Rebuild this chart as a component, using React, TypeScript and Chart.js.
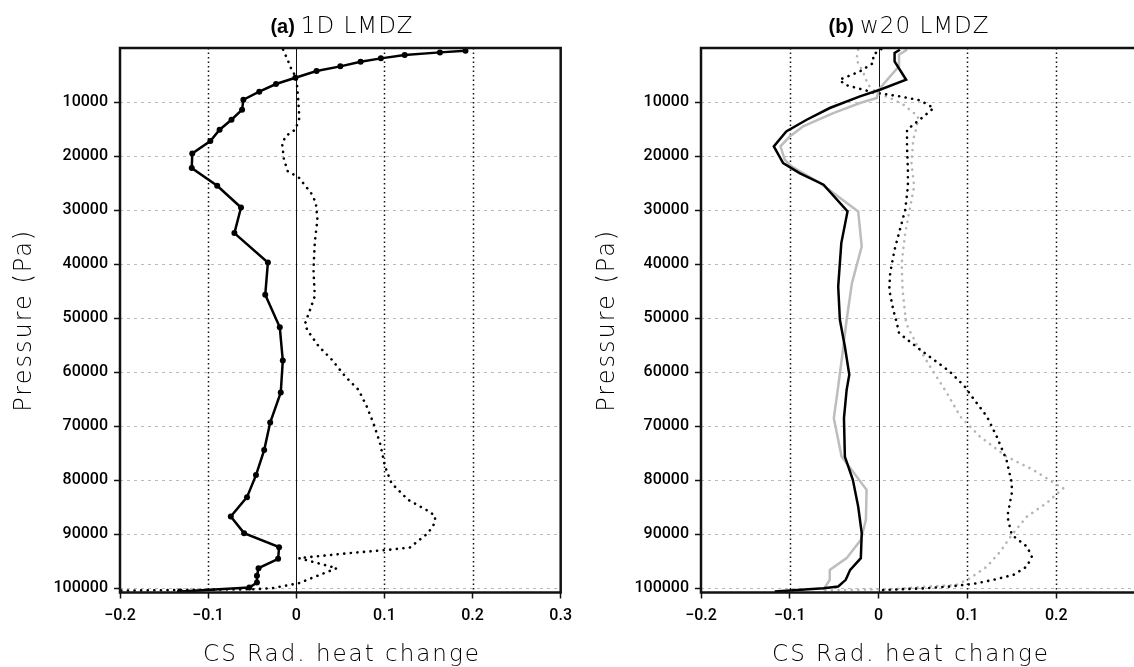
import React, { useEffect, useRef } from "react";
import { Chart, registerables } from "chart.js";
Chart.register(...registerables);

// ---- axes ----
const X_TICKS = [-0.2, -0.1, 0, 0.1, 0.2, 0.3];
const X_MIN = -0.2;
const X_MAX = 0.3;
const P_TICKS = [0, 10000, 20000, 30000, 40000, 50000, 60000, 70000, 80000, 90000, 100000];
const P_MIN = 0;
const P_MAX = 100800;

// ---- panel (a) 1D LMDZ ----
const A_SOLID_P = [500, 810, 1300, 1920, 2540, 3400, 4260, 5500, 6670, 8090, 9570, 11430, 13280, 15130, 17220, 19520, 22220, 25500, 29520, 34260, 39700, 45690, 51700, 57850, 63780, 69330, 74440, 79070, 83150, 86740, 89810, 92410, 94570, 96300, 97720, 98960, 99890, 100630];
const A_SOLID_X = [0.192, 0.163, 0.123, 0.096, 0.073, 0.05, 0.023, -0.001, -0.023, -0.042, -0.06, -0.0615, -0.0735, -0.087, -0.0975, -0.118, -0.1186, -0.0897, -0.0627, -0.0702, -0.0322, -0.0352, -0.0187, -0.0153, -0.0176, -0.0296, -0.0364, -0.0457, -0.0559, -0.0743, -0.0592, -0.0195, -0.0206, -0.0428, -0.0446, -0.0446, -0.0533, -0.132];

const A_DOT_P = [310, 2500, 4300, 5300, 9000, 13000, 15100, 16300, 17800, 20600, 22800, 24000, 26800, 28600, 31700, 36000, 41000, 45900, 48400, 51000, 52200, 55260, 57730, 60810, 63280, 66370, 69450, 73150, 77480, 80560, 83650, 85500, 86610, 87960, 89810, 92480, 92900, 93520, 94440, 96300, 97850, 99070, 100000, 100200, 100450];
const A_DOT_X = [-0.015, -0.009, -0.0046, 0.0, 0.002, 0.0035, -0.001, -0.012, -0.016, -0.014, -0.0097, 0.003, 0.0166, 0.0222, 0.024, 0.021, 0.0195, 0.021, 0.0158, 0.01, 0.0124, 0.0256, 0.0405, 0.0556, 0.0706, 0.08, 0.0875, 0.095, 0.1007, 0.108, 0.1269, 0.1475, 0.1577, 0.157, 0.1494, 0.1288, 0.1044, 0.0593, 0.003, 0.046, 0.0218, 0.003, -0.027, -0.05, -0.2];

// ---- panel (b) w20 LMDZ ----
const B_BLACK_P = [315, 930, 2480, 5870, 7720, 8960, 11110, 13280, 15440, 18220, 21300, 23150, 25310, 30260, 36110, 44150, 50310, 55260, 60500, 63280, 68520, 75630, 79940, 84890, 89810, 94440, 96610, 98460, 99700, 100000, 100630];
const B_BLACK_X = [0.024, 0.018, 0.018, 0.031, 0.0015, -0.021, -0.055, -0.081, -0.104, -0.118, -0.1075, -0.089, -0.062, -0.035, -0.042, -0.0455, -0.0436, -0.038, -0.033, -0.036, -0.039, -0.038, -0.029, -0.023, -0.019, -0.02, -0.032, -0.037, -0.0455, -0.062, -0.117];

const B_GRAY_P = [315, 1240, 3400, 5250, 7720, 9260, 10190, 12040, 14510, 16370, 18220, 20690, 21920, 25000, 30260, 36740, 43520, 50310, 56480, 62660, 68520, 75630, 81800, 87350, 91060, 94440, 96610, 98460, 100310];
const B_GRAY_X = [0.032, 0.023, 0.023, 0.013, 0.0, -0.002, -0.021, -0.051, -0.085, -0.1, -0.1105, -0.1056, -0.098, -0.066, -0.023, -0.019, -0.03, -0.036, -0.0406, -0.0455, -0.0504, -0.0417, -0.0135, -0.0143, -0.02, -0.036, -0.055, -0.055, -0.0624];

const B_BLACK_DOT_P = [190, 1240, 2780, 4330, 5870, 6800, 8220, 8960, 9700, 11110, 12780, 15130, 18220, 22540, 25620, 29940, 33650, 37350, 41670, 44750, 48460, 51240, 52780, 55870, 59880, 62660, 64510, 68220, 71920, 76240, 80560, 82410, 86740, 90130, 92290, 94140, 95990, 97530, 98460, 99200, 99700, 100000, 100310, 100400];
const B_BLACK_DOT_X = [0.003, -0.006, -0.006, -0.021, -0.044, -0.038, -0.006, 0.024, 0.047, 0.062, 0.05, 0.032, 0.032, 0.033, 0.033, 0.03, 0.024, 0.018, 0.013, 0.012, 0.0165, 0.021, 0.023, 0.047, 0.08, 0.097, 0.105, 0.122, 0.133, 0.144, 0.15, 0.15, 0.145, 0.15, 0.167, 0.1725, 0.167, 0.152, 0.129, 0.107, 0.08, 0.054, 0.009, 0.0];

const B_GRAY_DOT_P = [315, 2170, 4630, 6800, 8330, 9260, 10500, 12660, 14510, 16980, 21300, 25620, 29940, 34260, 39810, 44750, 51000, 54940, 58960, 63890, 68220, 71920, 75630, 78090, 80870, 81480, 84260, 86740, 90130, 93220, 95990, 98150, 99380, 99700, 100150, 100400];
const B_GRAY_DOT_X = [-0.023, -0.025, -0.017, -0.012, -0.002, 0.013, 0.028, 0.0446, 0.043, 0.039, 0.037, 0.04, 0.035, 0.03, 0.026, 0.027, 0.031, 0.043, 0.058, 0.077, 0.092, 0.114, 0.144, 0.174, 0.201, 0.208, 0.189, 0.167, 0.15, 0.137, 0.122, 0.103, 0.088, 0.054, 0.02, -0.06];

const BLACK = "#000000";
const GRAY = "#bdbdbd";
const GRAY_DOT = "#b4b4b4";

const toPts = (xs: number[], ps: number[]) => xs.map((x, i) => ({ x, y: ps[i] }));

const solid = (xs: number[], ps: number[], color: string, markers: boolean) => ({
  data: toPts(xs, ps),
  showLine: true,
  borderColor: color,
  backgroundColor: color,
  borderWidth: 2.5,
  pointRadius: markers ? 3 : 0,
  pointBackgroundColor: color,
  pointBorderWidth: 0,
  pointHoverRadius: 0,
  tension: 0,
  fill: false,
});

const dotted = (xs: number[], ps: number[], color: string) => ({
  data: toPts(xs, ps),
  showLine: true,
  borderColor: color,
  backgroundColor: color,
  borderWidth: 2.6,
  borderDash: [0.1, 6.5],
  borderCapStyle: "round",
  pointRadius: 0,
  pointHoverRadius: 0,
  tension: 0,
  fill: false,
});

const TICK_FONT = { family: "Roboto, 'Liberation Sans', Arial, sans-serif", size: 16, weight: "500" };
const fmtX = (v: number) => {
  const r = Math.round(v * 10) / 10;
  if (r === 0) return "0";
  return (r < 0 ? "\u2212" : "") + Math.abs(r).toFixed(1);
};

type PanelProps = {
  left: number;
  label: string;
  name: string;
  titleCenter: number;
  xTitleCenter: number;
  yTitleX: number;
  labelMax: number;
  datasets: any[];
};

function Panel({ left, label, name, titleCenter, xTitleCenter, yTitleX, labelMax, datasets }: PanelProps) {
  const ref = useRef<HTMLCanvasElement | null>(null);
  useEffect(() => {
    if (!ref.current) return;
    const decor = {
      id: "decor",
      beforeDatasetsDraw(chart: any) {
        const { ctx, chartArea } = chart;
        const xs = chart.scales.x;
        ctx.save();
        X_TICKS.forEach((v) => {
          if (v <= X_MIN || v >= X_MAX) return;
          const px = Math.round(xs.getPixelForValue(v)) + 0.5;
          ctx.beginPath();
          if (v === 0) {
            ctx.setLineDash([]);
            ctx.lineWidth = 1;
            ctx.strokeStyle = "#111";
          } else {
            ctx.setLineDash([1.5, 3]);
            ctx.lineWidth = 1.5;
            ctx.strokeStyle = "#111";
          }
          ctx.moveTo(px, chartArea.top);
          ctx.lineTo(px, chartArea.bottom);
          ctx.stroke();
        });
        ctx.restore();
      },
      afterDraw(chart: any) {
        const { ctx, chartArea } = chart;
        ctx.save();
        // frame
        ctx.setLineDash([]);
        ctx.strokeStyle = "#111";
        ctx.lineWidth = 2.5;
        ctx.strokeRect(chartArea.left, chartArea.top, chartArea.right - chartArea.left, chartArea.bottom - chartArea.top);
        // title
        ctx.fillStyle = "#000";
        ctx.textBaseline = "alphabetic";
        ctx.textAlign = "left";
        const boldFont = "bold 20px 'Liberation Sans', Arial, sans-serif";
        const thinFont = "200 23px 'DejaVu Sans', sans-serif";
        ctx.font = boldFont;
        const w1 = ctx.measureText(label).width;
        ctx.font = thinFont;
        (ctx as any).letterSpacing = "1px";
        const w2 = ctx.measureText(name).width;
        const gap = 6;
        const start = titleCenter - (w1 + gap + w2) / 2;
        (ctx as any).letterSpacing = "0px";
        ctx.font = boldFont;
        ctx.fillText(label, start, 33);
        ctx.font = thinFont;
        (ctx as any).letterSpacing = "1px";
        ctx.fillText(name, start + w1 + gap, 33);
        // x title
        ctx.font = "200 23px 'DejaVu Sans', sans-serif";
        (ctx as any).letterSpacing = "2px";
        ctx.textAlign = "center";
        ctx.fillText("CS Rad. heat change", xTitleCenter, 661);
        // y title
        ctx.save();
        ctx.translate(yTitleX, (chartArea.top + chartArea.bottom) / 2);
        ctx.rotate(-Math.PI / 2);
        ctx.font = "200 24px 'DejaVu Sans', sans-serif";
        (ctx as any).letterSpacing = "2px";
        ctx.textAlign = "center";
        ctx.textBaseline = "middle";
        ctx.fillText("Pressure (Pa)", 0, 0);
        ctx.restore();
        ctx.restore();
      },
    };
    const chart = new Chart(ref.current, {
      type: "scatter",
      data: { datasets },
      options: {
        animation: false,
        responsive: false,
        events: [],
        layout: { padding: { left: 0, top: 48, right: 16, bottom: 34.5 } },
        plugins: { legend: { display: false }, tooltip: { enabled: false }, title: { display: false } },
        scales: {
          x: {
            type: "linear",
            position: "bottom",
            min: X_MIN,
            max: X_MAX,
            afterBuildTicks: (s: any) => {
              s.ticks = X_TICKS.map((v) => ({ value: v }));
            },
            afterFit: (s: any) => {
              s.height = 40;
            },
            grid: { drawOnChartArea: false, drawTicks: true, tickLength: 6, tickColor: "#111", tickWidth: 1.5 },
            border: { display: false },
            ticks: {
              color: "#000",
              font: TICK_FONT,
              padding: 8,
              maxRotation: 0,
              autoSkip: false,
              callback: (v: any) => (Number(v) > labelMax + 1e-9 ? "" : fmtX(Number(v))),
            },
          },
          y: {
            type: "linear",
            reverse: true,
            min: P_MIN,
            max: P_MAX,
            afterBuildTicks: (s: any) => {
              s.ticks = P_TICKS.map((v) => ({ value: v }));
            },
            afterFit: (s: any) => {
              s.width = 120;
            },
            grid: {
              drawOnChartArea: true,
              drawTicks: true,
              color: (c: any) => (c.tick && c.tick.value === 0 ? "rgba(0,0,0,0)" : "#bbbbbb"),
              lineWidth: 1,
              tickLength: 6,
              tickWidth: 1.5,
              tickColor: (c: any) => (c.tick && c.tick.value === 0 ? "rgba(0,0,0,0)" : "#111"),
            },
            border: { display: false, dash: [3, 4] },
            ticks: { color: "#000", font: TICK_FONT, padding: 6, autoSkip: false, callback: (v: any) => (Number(v) === 0 ? "" : String(v)) },
          },
        },
      } as any,
      plugins: [decor],
    });
    return () => chart.destroy();
  }, []);
  return (
    <canvas
      ref={ref}
      width={580}
      height={667}
      style={{ position: "absolute", left, top: 0, width: 580, height: 667 }}
    />
  );
}

export default function App() {
  const dsA = [
    solid(A_SOLID_X, A_SOLID_P, BLACK, true),
    dotted(A_DOT_X, A_DOT_P, BLACK),
  ];
  const dsB = [
    solid(B_BLACK_X, B_BLACK_P, BLACK, false),
    solid(B_GRAY_X, B_GRAY_P, GRAY, false),
    dotted(B_BLACK_DOT_X, B_BLACK_DOT_P, BLACK),
    dotted(B_GRAY_DOT_X, B_GRAY_DOT_P, GRAY_DOT),
  ];
  return (
    <div style={{ position: "fixed", left: 0, top: 0, width: 1134, height: 667, overflow: "hidden", background: "#fff" }}>
      <Panel left={0} label="(a)" name="1D LMDZ" titleCenter={342} xTitleCenter={342} yTitleX={25} labelMax={0.3} datasets={dsA} />
      <Panel left={581} label="(b)" name="w20 LMDZ" titleCenter={328} xTitleCenter={330} yTitleX={27} labelMax={0.2} datasets={dsB} />
    </div>
  );
}
